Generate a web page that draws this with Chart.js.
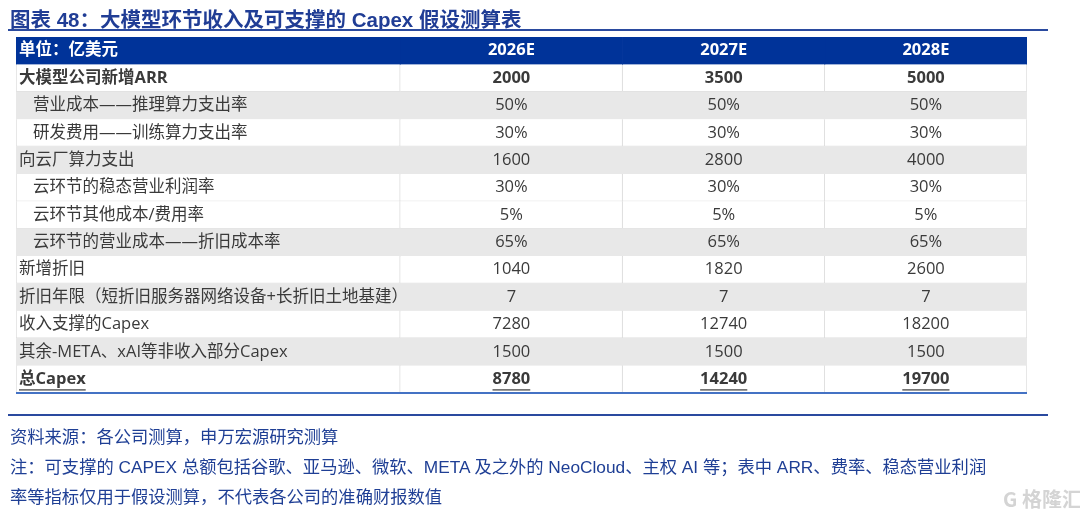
<!DOCTYPE html>
<html>
<head>
<meta charset="utf-8">
<script src="https://cdn.jsdelivr.net/npm/chart.js@4.4.1/dist/chart.umd.min.js"></script>
<style>
  body { margin:0; background:#fff; }
  #wrap { position:relative; width:1080px; height:514px; overflow:hidden; }
  #mycanvas { position:absolute; left:0; top:0; }
  .title { position:absolute; left:10px; top:3px; font:bold 20.5px "Liberation Sans","Noto Sans CJK SC",sans-serif; color:#203d95; white-space:nowrap; }
  .rule { position:absolute; left:8px; width:1040px; height:2px; background:#2a4a9f; }
  .note { position:absolute; left:10px; font:17.3px/30px "Liberation Sans","Noto Sans CJK SC",sans-serif; color:#1f3f95; white-space:nowrap; }
  .mark { position:absolute; left:1003px; top:484px; font:bold 20px "Noto Sans CJK SC",sans-serif; color:#d4d4d4; white-space:nowrap; }
</style>
</head>
<body>
<div id="wrap">
  <canvas id="mycanvas" width="1080" height="514"></canvas>
  <div class="title">图表 48：大模型环节收入及可支撑的 Capex 假设测算表</div>
  <div class="rule" style="top:29px"></div>
  <div class="rule" style="top:414px"></div>
  <div class="note" style="top:422px">资料来源：各公司测算，申万宏源研究测算</div>
  <div class="note" style="top:452px">注：可支撑的 CAPEX 总额包括谷歌、亚马逊、微软、META 及之外的 NeoCloud、主权 AI 等；表中 ARR、费率、稳态营业利润</div>
  <div class="note" style="top:482px">率等指标仅用于假设测算，不代表各公司的准确财报数值</div>
  <div class="mark">G 格隆汇</div>
</div>
<script>
// table data
var unitLabel = '单位：亿美元';
var years = ['2026E', '2027E', '2028E'];
var rowLabels = [
  '大模型公司新增ARR',
  '营业成本——推理算力支出率',
  '研发费用——训练算力支出率',
  '向云厂算力支出',
  '云环节的稳态营业利润率',
  '云环节其他成本/费用率',
  '云环节的营业成本——折旧成本率',
  '新增折旧',
  '折旧年限（短折旧服务器网络设备+长折旧土地基建）',
  '收入支撑的Capex',
  '其余-META、xAI等非收入部分Capex',
  '总Capex'
];
var rowLevel = [0, 1, 1, 0, 1, 1, 1, 0, 0, 0, 0, 0];
var rowIsPct = [false, true, true, false, true, true, true, false, false, false, false, false];
var v2026 = [2000, 50, 30, 1600, 30, 5, 65, 1040, 7, 7280, 1500, 8780];
var v2027 = [3500, 50, 30, 2800, 30, 5, 65, 1820, 7, 12740, 1500, 14240];
var v2028 = [5000, 50, 30, 4000, 30, 5, 65, 2600, 7, 18200, 1500, 19700];

// layout / style
var colEdges = [0, 1.9, 3.0, 4.0, 5.0];
var shadedRows = [1, 3, 6, 8, 10];
var boldRows = [0, 11];
var underlineRows = [11];
var headBlue = '#003399';
var shadeGray = '#e8e8e8';
var lineGray = '#dcdcdc';
var textColor = '#3a3a3a';
var fontFam = '"Open Sans","Noto Sans CJK SC",sans-serif';

var values = [v2026, v2027, v2028];
var yLabels = [unitLabel].concat(rowLabels);

function rowFill(i) {
  if (i === 0) return headBlue;
  return shadedRows.indexOf(i - 1) >= 0 ? shadeGray : '#ffffff';
}
function rowBorder(i, c) {
  if (i === 0 || shadedRows.indexOf(i - 1) >= 0) return 0;
  return { top: 0, right: 1, bottom: 1, left: c === 0 ? 1 : 0 };
}

var datasets = [];
for (var c = 0; c < 4; c++) {
  (function(c) {
    datasets.push({
      data: yLabels.map(function() { return [colEdges[c], colEdges[c + 1]]; }),
      backgroundColor: yLabels.map(function(l, i) { return rowFill(i); }),
      borderColor: lineGray,
      borderWidth: yLabels.map(function(l, i) { return rowBorder(i, c); }),
      borderSkipped: false,
      grouped: false,
      barPercentage: 1,
      categoryPercentage: 1
    });
  })(c);
}

var tableText = {
  id: 'tableText',
  afterDatasetsDraw: function(chart) {
    var ctx = chart.ctx;
    var xs = chart.scales.x, ys = chart.scales.y, area = chart.chartArea;
    ctx.save();
    ctx.textBaseline = 'middle';
    yLabels.forEach(function(label, i) {
      var y = ys.getPixelForValue(i);
      var bold = i === 0 || boldRows.indexOf(i - 1) >= 0;
      ctx.font = (bold ? 'bold ' : '') + '16.5px ' + fontFam;
      ctx.fillStyle = i === 0 ? '#ffffff' : textColor;
      var under = i > 0 && underlineRows.indexOf(i - 1) >= 0;
      // label cell
      ctx.textAlign = 'left';
      var lx = xs.getPixelForValue(colEdges[0]) + 3 + (i > 0 ? rowLevel[i - 1] * 14 : 0);
      ctx.fillText(label, lx, y);
      if (under) {
        var w = ctx.measureText(label).width;
        ctx.fillRect(lx, y + 10, w, 1.2);
      }
      // value cells
      ctx.textAlign = 'center';
      for (var c = 0; c < 3; c++) {
        var cx = (xs.getPixelForValue(colEdges[c + 1]) + xs.getPixelForValue(colEdges[c + 2])) / 2;
        var txt;
        if (i === 0) txt = years[c];
        else txt = values[c][i - 1] + (rowIsPct[i - 1] ? '%' : '');
        ctx.fillText(txt, cx, y);
        if (under) {
          var tw = ctx.measureText(txt).width;
          ctx.fillRect(cx - tw / 2, y + 10, tw, 1.2);
        }
      }
    });
    // bottom rule of the table
    ctx.fillStyle = '#4472c4';
    ctx.fillRect(area.left, area.bottom - 1, area.right - area.left, 2);
    ctx.restore();
  }
};

var ctx = document.getElementById('mycanvas');
var tableChart = new Chart(ctx, {
  type: 'bar',
  data: { labels: yLabels, datasets: datasets },
  options: {
    indexAxis: 'y',
    responsive: false,
    animation: false,
    events: [],
    layout: { padding: { left: 16, right: 53, top: 37, bottom: 121 } },
    plugins: { legend: { display: false }, tooltip: { enabled: false } },
    scales: {
      x: { type: 'linear', min: 0, max: 5, display: false },
      y: { type: 'category', display: false }
    }
  },
  plugins: [tableText]
});
</script>
</body>
</html>
